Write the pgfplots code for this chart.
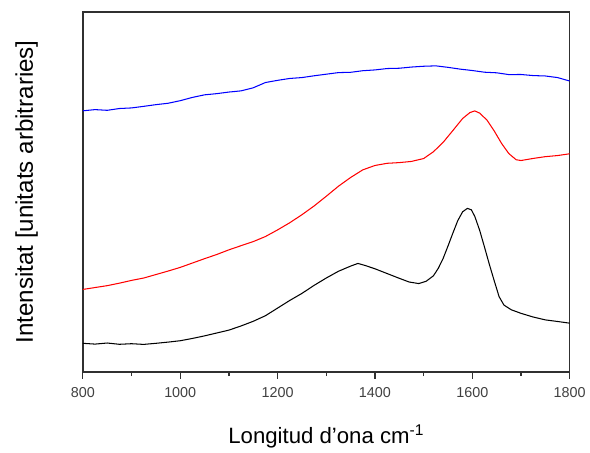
\documentclass[border=0pt]{standalone}
\usepackage{fontspec}
\setmainfont{Liberation Sans}
\usepackage{pgfplots}
\pgfplotsset{compat=1.18}
\definecolor{tickgray}{HTML}{404040}
\definecolor{axgray}{HTML}{303030}
\begin{document}
\begin{tikzpicture}
\begin{axis}[
  scale only axis,
  width=373pt, height=276pt,
  xmin=800, xmax=1800, ymin=73, ymax=436,
  xtick={800,1000,...,1800},
  minor xtick={900,1100,...,1700},
  ytick=\empty,
  tick align=outside,
  major tick length=5pt, minor tick length=3pt,
  axis line style={axgray, line width=1.1pt},
  every tick/.style={axgray, line width=0.9pt},
  xtick pos=bottom,
  tick label style={font=\fontsize{11}{13}\selectfont, text=tickgray},
  xticklabel style={yshift=-3pt},
  /pgf/number format/assume math mode=true,
  /pgf/number format/1000 sep={},
  xlabel={Longitud d'ona cm\textsuperscript{-1}},
  ylabel={Intensitat [unitats arbitraries]},
  xlabel style={font=\fontsize{17}{20}\selectfont, yshift=-14pt},
  ylabel style={font=\fontsize{18.5}{22}\selectfont, yshift=26pt},
  clip=true,
]
\addplot[blue, line width=0.8pt] coordinates {
(800,336.3)(825,337.5)(850,336.8)(875,338.6)(900,339.2)(925,340.8)(950,342.5)(975,343.9)(1000,346.5)(1025,349.8)(1050,352.4)(1075,353.6)(1100,355.2)(1125,356.4)(1150,359.5)(1175,364.8)(1200,367.0)(1225,368.9)(1250,369.8)(1275,371.6)(1300,373.2)(1325,374.8)(1350,375.1)(1375,376.7)(1400,377.5)(1425,378.9)(1450,379.2)(1475,380.4)(1500,381.2)(1525,381.6)(1550,380.1)(1575,378.3)(1600,376.9)(1625,375.2)(1650,374.6)(1675,372.8)(1700,372.9)(1725,371.8)(1750,371.4)(1775,369.8)(1800,366.3)};
\addplot[red, line width=0.8pt] coordinates {
(800,156.3)(825,158.2)(850,160.1)(875,162.6)(900,165.4)(925,167.8)(950,171.3)(975,174.8)(1000,178.5)(1025,182.9)(1050,187.3)(1075,191.5)(1100,196.2)(1125,200.4)(1150,204.5)(1175,209.6)(1200,216.3)(1225,223.5)(1250,231.6)(1275,240.4)(1300,250.2)(1325,260.3)(1350,269.1)(1375,276.8)(1400,281.2)(1425,283.4)(1450,284.1)(1475,285.3)(1500,288.2)(1520,295)(1540,304.5)(1560,316.4)(1580,328.5)(1595,334.5)(1605,336.2)(1615,334.0)(1630,327)(1645,316)(1660,303.5)(1675,293.2)(1690,287.0)(1700,286.2)(1725,288.3)(1750,290.1)(1775,291.2)(1800,293)};
\addplot[black, line width=0.8pt] coordinates {
(800,102)(825,101.2)(850,102.3)(875,101.0)(900,101.6)(925,100.9)(950,102.0)(975,103.2)(1000,104.6)(1025,106.9)(1050,109.5)(1075,112.4)(1100,115.3)(1125,119.5)(1150,124.2)(1175,129.8)(1200,137.5)(1225,145.2)(1250,152.3)(1275,160.4)(1300,167.8)(1325,174.6)(1350,179.8)(1365,182.5)(1380,180.4)(1400,177.1)(1425,172.3)(1450,167.5)(1470,163.8)(1490,162.2)(1505,164.5)(1520,170)(1530,177.5)(1540,187.5)(1550,200)(1560,213)(1570,225.5)(1580,234.5)(1590,238)(1598,236.5)(1605,230)(1615,216)(1625,199)(1635,181.5)(1645,165)(1655,149)(1665,140.5)(1680,135.8)(1700,132.2)(1725,128.5)(1750,125.6)(1775,124.0)(1800,122.3)};
\end{axis}
\useasboundingbox (-63.5pt,-55.5pt) rectangle (385pt,285.1pt);
\end{tikzpicture}
\end{document}
